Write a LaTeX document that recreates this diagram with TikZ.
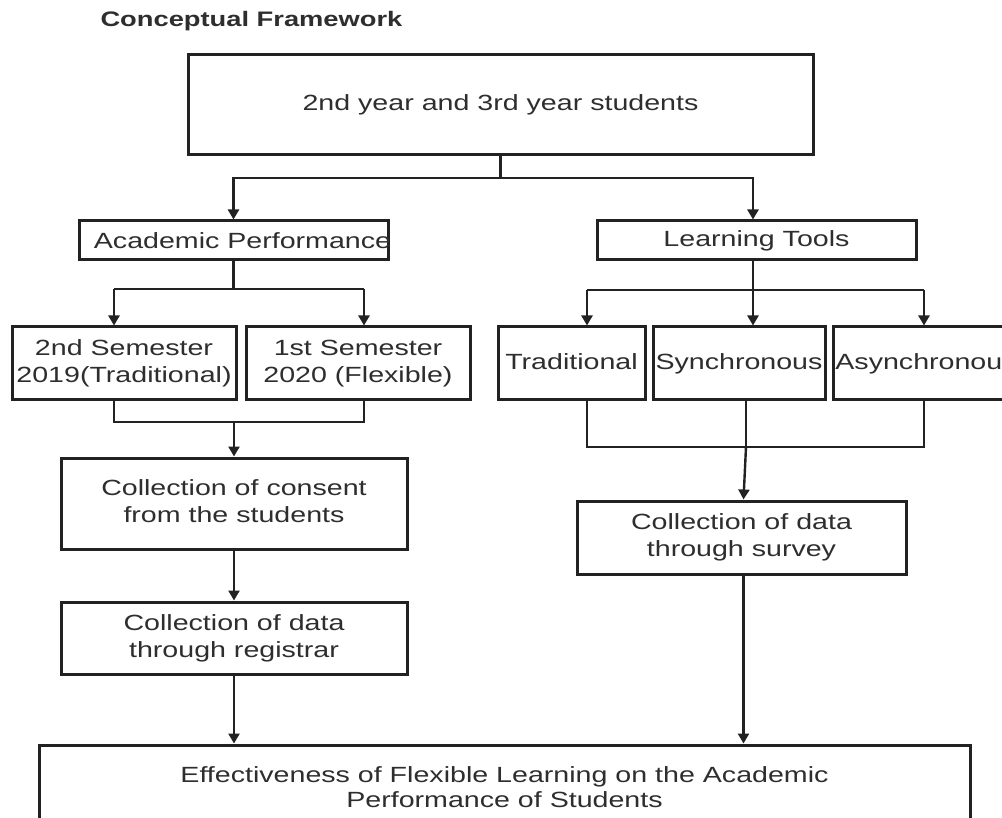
\documentclass[tikz,border=0pt]{standalone}
\usepackage{fontspec}
\setmainfont{Liberation Sans}[FakeStretch=1.3]
\usetikzlibrary{arrows.meta}
\definecolor{ink}{HTML}{222222}
\definecolor{txt}{HTML}{2E2E2E}
\tikzset{
  boxnode/.style={draw=ink, line width=3pt, rectangle, inner sep=0pt, align=center,
    text=txt, font=\fontsize{22}{27}\selectfont},
  conn/.style={draw=ink, line width=2.4pt},
  arr/.style={conn, -{Triangle[width=11pt,length=10pt]}},
}
\begin{document}
\begin{tikzpicture}[x=1pt,y=-1pt]
\useasboundingbox (0,0) rectangle (1002,818);
\clip (0,0) rectangle (1002,818);
\fill[white] (0,0) rectangle (1002,818);

\node[anchor=base west, text=txt, font=\fontsize{21}{25}\selectfont\bfseries] (title) at (97,27) {Conceptual Framework};

% boxes
\node[boxnode, minimum width=625pt, minimum height=100pt] (top) at (500.5,105) {2nd year and 3rd year students};
\node[boxnode, minimum width=309pt, minimum height=39pt] (acad) at (233.5,240.5) {\makebox[0pt]{\hspace{18pt}Academic Performance}};
\node[boxnode, minimum width=319pt, minimum height=39pt] (tools) at (756.5,240.5) {Learning Tools};
\node[boxnode, minimum width=224pt, minimum height=73pt] (sem1) at (124,363.5) {2nd Semester\\2019(Traditional)};
\node[boxnode, minimum width=224pt, minimum height=73pt] (sem2) at (358,363.5) {1st Semester\\2020 (Flexible)};
\node[boxnode, minimum width=147pt, minimum height=73pt] (trad) at (571.5,363.5) {\raisebox{-9pt}{Traditional\vphantom{Ty}}};
\node[boxnode, minimum width=172pt, minimum height=73pt] (sync) at (739,363.5) {\raisebox{-9pt}{Synchronous\vphantom{Ty}}};
\node[boxnode, minimum width=182pt, minimum height=73pt] (async) at (924,363.5) {\raisebox{-9pt}{\makebox[0pt]{\hspace{4pt}Asynchronous\vphantom{Ty}}}};
\node[boxnode, minimum width=346pt, minimum height=91pt] (consent) at (234,503.5) {\raisebox{10pt}{\begin{tabular}{@{}c@{}}Collection of consent\\from the students\end{tabular}}};
\node[boxnode, minimum width=329pt, minimum height=73pt] (survey) at (741.5,537.5) {Collection of data\\through survey};
\node[boxnode, minimum width=346pt, minimum height=72pt] (registrar) at (234,638) {Collection of data\\through registrar};
\node[boxnode, minimum width=931pt, minimum height=90pt] (bottom) at (504.5,790) {\raisebox{22pt}{\begin{tabular}{@{}c@{}}Effectiveness of Flexible Learning on the Academic\\[-2pt]Performance of Students\end{tabular}}};

% junction coordinates
\coordinate (s1) at (500.5,178);
\coordinate (ja) at (233.5,289);
\coordinate (ja1) at (114,289);
\coordinate (ja2) at (364,289);
\coordinate (jt1) at (587,290);
\coordinate (jt2) at (753,290);
\coordinate (jt3) at (924,290);
\coordinate (jl1) at (114,422);
\coordinate (jl2) at (364,422);
\coordinate (jlm) at (234,422);
\coordinate (jr1) at (587,447);
\coordinate (jr2) at (746,447);
\coordinate (jr3) at (924,447);

% top split
\draw[conn] (top.south) -- (s1);
\draw[arr] (s1) -| (acad.north);
\draw[arr] (s1) -| (jt2 |- tools.north);

% academic performance split
\draw[conn] (acad.south) -- (ja);
\draw[conn] (ja1) -- (ja2);
\draw[arr] (ja1) -- (ja1 |- sem1.north);
\draw[arr] (ja2) -- (ja2 |- sem2.north);

% learning tools split
\draw[conn] (jt2 |- tools.south) -- (jt2);
\draw[conn] (jt1) -- (jt3);
\draw[arr] (jt1) -- (jt1 |- trad.north);
\draw[arr] (jt2) -- (jt2 |- sync.north);
\draw[arr] (jt3) -- (jt3 |- async.north);

% semesters join
\draw[conn] (jl1 |- sem1.south) -- (jl1) -- (jl2) -- (jl2 |- sem2.south);
\draw[arr] (jlm) -- (consent.north);

% tools join
\draw[conn] (jr1 |- trad.south) -- (jr1) -- (jr3) -- (jr3 |- async.south);
\draw[conn] (jr2 |- sync.south) -- (jr2);
\draw[arr] (jr2) -- ([xshift=2pt]survey.north);

% down the columns
\draw[arr] (consent.south) -- (registrar.north);
\draw[arr] (registrar.south) -- (registrar.south |- bottom.north);
\draw[arr] ([xshift=2pt]survey.south) -- ([xshift=2pt]survey.south |- bottom.north);
\end{tikzpicture}
\end{document}
